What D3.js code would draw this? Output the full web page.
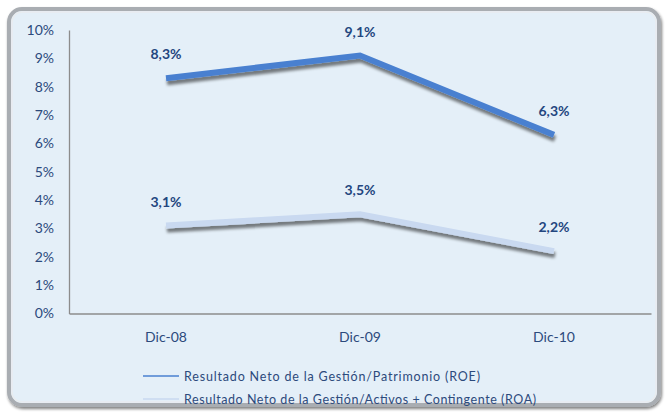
<!DOCTYPE html>
<html><head><meta charset="utf-8">
<script src="https://cdn.jsdelivr.net/npm/d3@7"></script>
<style>body{margin:0;background:#fff}svg{display:block}</style>
</head><body>
<svg id="c" width="667" height="412"></svg>
<script>
const categories = ["Dic-08","Dic-09","Dic-10"];
const roe = [8.3, 9.1, 6.3];
const roa = [3.1, 3.5, 2.2];
const roeLabels = ["8,3%","9,1%","6,3%"];
const roaLabels = ["3,1%","3,5%","2,2%"];
const yTicks = [0,1,2,3,4,5,6,7,8,9,10];
const seriesNames = ["Resultado Neto de la Gestión/Patrimonio  (ROE)","Resultado Neto de la Gestión/Activos + Contingente (ROA)"];
const colors = ["#4a80d0","#c9d9f0"];

const svg = d3.select("#c");
const font = "Lato, 'Open Sans', sans-serif";
const defs = svg.append("defs");
const f = defs.append("filter").attr("id","sh").attr("x","-10%").attr("y","-50%").attr("width","120%").attr("height","200%");
f.append("feGaussianBlur").attr("in","SourceAlpha").attr("stdDeviation",1.6);
f.append("feOffset").attr("dx",1).attr("dy",4).attr("result","ob");
f.append("feComponentTransfer").append("feFuncA").attr("type","linear").attr("slope",0.5);
const m = f.append("feMerge"); m.append("feMergeNode"); m.append("feMergeNode").attr("in","SourceGraphic");
const fb = defs.append("filter").attr("id","fs");
fb.append("feGaussianBlur").attr("in","SourceAlpha").attr("stdDeviation",1.5);
fb.append("feOffset").attr("dx",1).attr("dy",1.5);
fb.append("feComponentTransfer").append("feFuncA").attr("type","linear").attr("slope",0.5);
const m2 = fb.append("feMerge"); m2.append("feMergeNode"); m2.append("feMergeNode").attr("in","SourceGraphic");

// frame
svg.append("rect").attr("x",9).attr("y",9).attr("width",650).attr("height",396).attr("rx",13)
  .attr("fill","#e4eff8").attr("stroke","#a9adb2").attr("stroke-width",4).attr("filter","url(#fs)");
svg.append("rect").attr("x",12).attr("y",12).attr("width",644).attr("height",390).attr("rx",10)
  .attr("fill","none").attr("stroke","#e9ecef").attr("stroke-width",1.5);

const x = d3.scaleBand().domain(categories).range([69,651]);
const y = d3.scaleLinear().domain([0,10]).range([313.5,30]);

const yAxis = d3.axisLeft(y).tickValues(yTicks).tickFormat(d=>d+"%").tickSize(0).tickPadding(15);
const gy = svg.append("g").attr("transform","translate(69,0)").call(yAxis);
gy.select(".domain").attr("stroke","#8c8c8c").attr("stroke-width",1.3);
gy.selectAll("text").attr("font-family",font).attr("font-size",14).attr("fill","#2c4a7c");

const xAxis = d3.axisBottom(x).tickSize(0).tickPadding(19);
const gx = svg.append("g").attr("transform","translate(0,313.5)").call(xAxis);
gx.select(".domain").attr("stroke","#8c8c8c").attr("stroke-width",1.3);
gx.selectAll("text").attr("font-family",font).attr("font-size",14).attr("fill","#2c4a7c");

const line = d3.line().x((d,i)=>x(categories[i])+x.bandwidth()/2).y(d=>y(d));
[[roa,1],[roe,0]].forEach(([data,k])=>{
  svg.append("path").attr("d",line(data)).attr("fill","none").attr("stroke",colors[k])
    .attr("stroke-width",6).attr("stroke-linejoin","miter").attr("filter","url(#sh)");
});
[[roe,roeLabels],[roa,roaLabels]].forEach(([data,labs])=>{
  svg.append("g").selectAll("text").data(data).join("text")
    .attr("x",(d,i)=>x(categories[i])+x.bandwidth()/2)
    .attr("y",d=>y(d)-19)
    .attr("text-anchor","middle").attr("font-family",font).attr("font-weight","bold")
    .attr("font-size",14).attr("fill","#23467f").text((d,i)=>labs[i]);
});

// legend
const legendW = [296, 352];
const lg = svg.append("g");
seriesNames.forEach((n,i)=>{
  const yy = 376 + i*23;
  lg.append("line").attr("x1",143).attr("x2",179).attr("y1",yy).attr("y2",yy).attr("stroke",colors[i]).attr("stroke-width",1.5);
  lg.append("text").attr("x",184).attr("y",yy+4.5).attr("font-family",font).attr("font-size",12.5)
    .attr("textLength",legendW[i]).attr("lengthAdjust","spacing")
    .attr("fill","#2c4a7c").text(n);
});
</script>
</body></html>
